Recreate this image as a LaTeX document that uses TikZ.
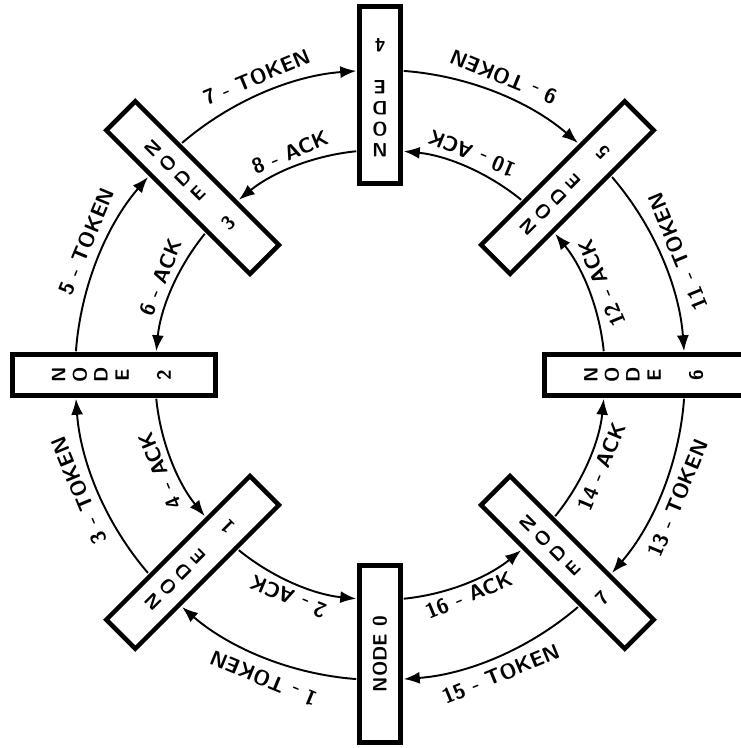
\documentclass[tikz,border=0pt]{standalone}
\usepackage{tikz}
\usetikzlibrary{arrows.meta}
\pgfdeclarelayer{edgelayer}
\pgfdeclarelayer{nodelayer}
\pgfsetlayers{edgelayer,nodelayer,main}
\tikzstyle{none}=[inner sep=0pt]
\tikzstyle{box}=[rectangle, draw=black, fill=white, line width=2.6pt, minimum width=0.82cm, minimum height=4.06cm, inner sep=0pt, font=\fontsize{11}{12}\selectfont\sffamily\bfseries]
\tikzstyle{shortbox}=[box, minimum height=3.55cm]
\tikzstyle{flow}=[draw=black, line width=1.1pt, looseness=0.87, -{Latex[length=3.2mm, width=2.4mm]}]
\tikzstyle{msg}=[inner sep=0pt, font=\fontsize{12}{14}\selectfont\sffamily\bfseries]
\newcommand{\nodestack}[1]{\begin{tabular}{@{}c@{}}N\\O\\D\\E\\[12pt]#1\end{tabular}}

\begin{document}
\begin{tikzpicture}
	\useasboundingbox (-7.6, -7.46) rectangle (7.2, 7.5);
	\begin{pgfonlayer}{nodelayer}
		\node [style=shortbox] (0) at (270:5.58) {\rotatebox{90}{NODE 0}};
		\node [style=box, rotate=135] (1) at (225:5.3) {\nodestack{1}};
		\node [style=box, rotate=90] (2) at (180:5.32) {\nodestack{2}};
		\node [style=box, rotate=45] (3) at (135:5.3) {\nodestack{3}};
		\node [style=shortbox, rotate=180] (4) at (90:5.6) {\nodestack{4}};
		\node [style=box, rotate=135] (5) at (45:5.3) {\nodestack{5}};
		\node [style=box, rotate=90] (6) at (0:5.32) {\nodestack{6}};
		\node [style=box, rotate=45] (7) at (-45:5.3) {\nodestack{7}};
		\node [style=none] (100) at (274.23:6.1) {};
		\node [style=none] (101) at (265.77:6.1) {};
		\node [style=none] (102) at (275.74:4.5) {};
		\node [style=none] (103) at (264.26:4.5) {};
		\node [style=none] (110) at (229.23:6.1) {};
		\node [style=none] (111) at (220.77:6.1) {};
		\node [style=none] (112) at (230.74:4.5) {};
		\node [style=none] (113) at (219.26:4.5) {};
		\node [style=none] (120) at (184.23:6.1) {};
		\node [style=none] (121) at (175.77:6.1) {};
		\node [style=none] (122) at (185.74:4.5) {};
		\node [style=none] (123) at (174.26:4.5) {};
		\node [style=none] (130) at (139.23:6.1) {};
		\node [style=none] (131) at (130.77:6.1) {};
		\node [style=none] (132) at (140.74:4.5) {};
		\node [style=none] (133) at (129.26:4.5) {};
		\node [style=none] (140) at (94.23:6.1) {};
		\node [style=none] (141) at (85.77:6.1) {};
		\node [style=none] (142) at (95.74:4.5) {};
		\node [style=none] (143) at (84.26:4.5) {};
		\node [style=none] (150) at (49.23:6.1) {};
		\node [style=none] (151) at (40.77:6.1) {};
		\node [style=none] (152) at (50.74:4.5) {};
		\node [style=none] (153) at (39.26:4.5) {};
		\node [style=none] (160) at (4.23:6.1) {};
		\node [style=none] (161) at (-4.23:6.1) {};
		\node [style=none] (162) at (5.74:4.5) {};
		\node [style=none] (163) at (-5.74:4.5) {};
		\node [style=none] (170) at (-40.77:6.1) {};
		\node [style=none] (171) at (-49.23:6.1) {};
		\node [style=none] (172) at (-39.26:4.5) {};
		\node [style=none] (173) at (-50.74:4.5) {};
		\node [style=msg, rotate=157.5] (201) at (249:6.5) {1 - TOKEN};
		\node [style=msg, rotate=157.5] (202) at (247.5:4.8) {2 - ACK};
		\node [style=msg, rotate=112.5] (203) at (201:6.45) {3 - TOKEN};
		\node [style=msg, rotate=112.5] (204) at (203.5:4.8) {4 - ACK};
		\node [style=msg, rotate=67.5] (205) at (155.5:6.45) {5 - TOKEN};
		\node [style=msg, rotate=67.5] (206) at (156:4.8) {6 - ACK};
		\node [style=msg, rotate=22.5] (207) at (112.5:6.45) {7 - TOKEN};
		\node [style=msg, rotate=22.5] (208) at (112:4.8) {8 - ACK};
		\node [style=msg, rotate=157.5] (209) at (67.5:6.45) {9 - TOKEN};
		\node [style=msg, rotate=157.5] (210) at (67.5:4.8) {10 - ACK};
		\node [style=msg, rotate=112.5] (211) at (22.5:6.45) {11 - TOKEN};
		\node [style=msg, rotate=112.5] (212) at (22.5:4.8) {12 - ACK};
		\node [style=msg, rotate=67.5] (213) at (-22.5:6.45) {13 - TOKEN};
		\node [style=msg, rotate=67.5] (214) at (-22.5:4.8) {14 - ACK};
		\node [style=msg, rotate=22.5] (215) at (-68:6.45) {15 - TOKEN};
		\node [style=msg, rotate=22.5] (216) at (-68:4.75) {16 - ACK};
	\end{pgfonlayer}
	\begin{pgfonlayer}{edgelayer}
		\draw [style=flow, bend left=18.27] (101) to (110);
		\draw [style=flow, bend left=18.27] (111) to (120);
		\draw [style=flow, bend left=18.27] (121) to (130);
		\draw [style=flow, bend left=18.27] (131) to (140);
		\draw [style=flow, bend left=18.27] (141) to (150);
		\draw [style=flow, bend left=18.27] (151) to (160);
		\draw [style=flow, bend left=18.27] (161) to (170);
		\draw [style=flow, bend left=18.27] (171) to (100);
		\draw [style=flow, bend right=16.76] (112) to (103);
		\draw [style=flow, bend right=16.76] (122) to (113);
		\draw [style=flow, bend right=16.76] (132) to (123);
		\draw [style=flow, bend right=16.76] (142) to (133);
		\draw [style=flow, bend right=16.76] (152) to (143);
		\draw [style=flow, bend right=16.76] (162) to (153);
		\draw [style=flow, bend right=16.76] (172) to (163);
		\draw [style=flow, bend right=16.76] (102) to (173);
	\end{pgfonlayer}
\end{tikzpicture}
\end{document}
